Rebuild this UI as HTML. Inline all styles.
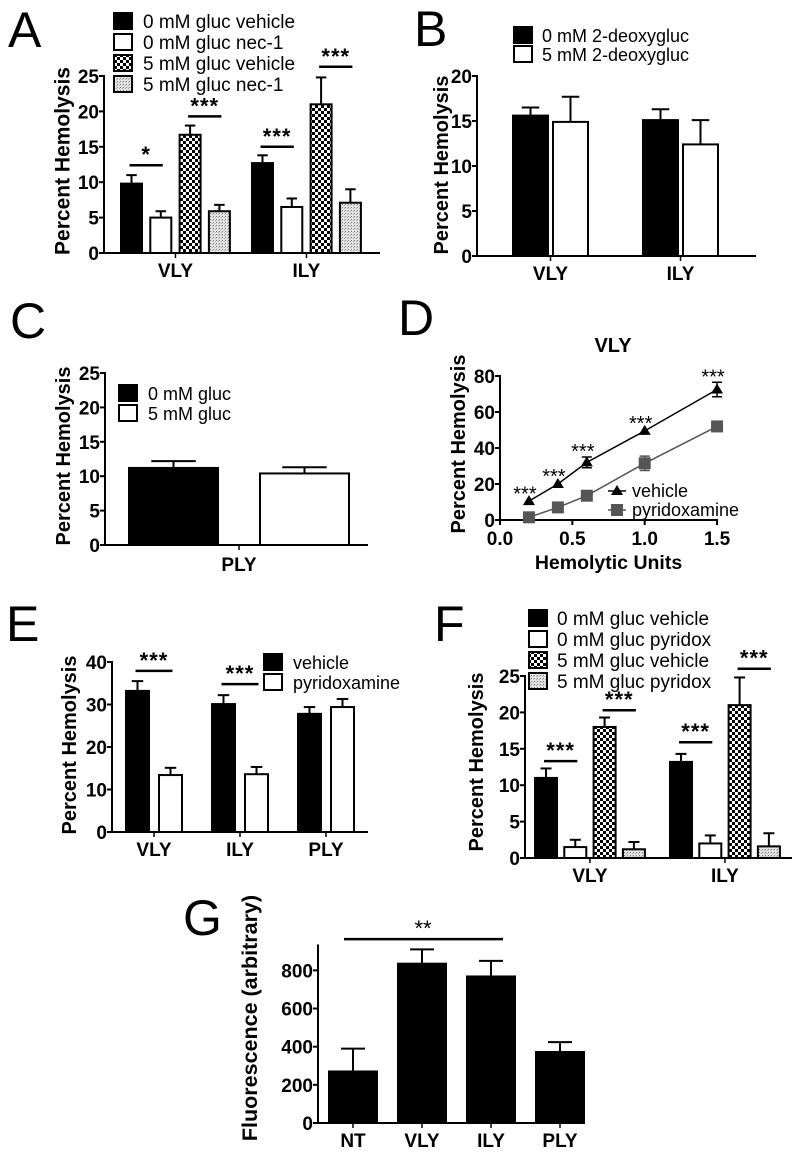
<!DOCTYPE html>
<html><head><meta charset="utf-8"><style>
body{margin:0;background:#fff}
svg{display:block;font-family:"Liberation Sans",Arial,sans-serif}
</style></head><body>
<svg id="fig" width="800" height="1160" viewBox="0 0 800 1160" xmlns="http://www.w3.org/2000/svg">
<defs>
<pattern id="checker" width="6" height="6" patternUnits="userSpaceOnUse"><rect width="6" height="6" fill="#fff"/><rect width="3" height="3" fill="#000"/><rect x="3" y="3" width="3" height="3" fill="#000"/></pattern>
<pattern id="stipple" width="3" height="3" patternUnits="userSpaceOnUse"><rect width="3" height="3" fill="#e4e4e4"/><rect width="1" height="1" fill="#777"/><rect x="2" y="1" width="1" height="1" fill="#aaa"/></pattern>
</defs>
</svg>
<script>
// ---- Panel A ----
const aCats=["VLY","ILY"];
const aVeh0=[9.8,12.7], aVeh0Err=[1.2,1.1];
const aNec0=[5.0,6.5], aNec0Err=[0.9,1.2];
const aVeh5=[16.7,21.0], aVeh5Err=[1.3,3.8];
const aNec5=[5.9,7.1], aNec5Err=[0.9,1.9];
const aTicks=[0,5,10,15,20,25];
const aSig=[[0,0,1,12.4,"*"],[0,2,3,19.3,"***"],[1,0,1,15.0,"***"],[1,2,3,26.3,"***"]];
// ---- Panel B ----
const bCats=["VLY","ILY"];
const b0=[15.6,15.1], b0Err=[0.9,1.2];
const b5=[14.9,12.4], b5Err=[2.8,2.7];
const bTicks=[0,5,10,15,20];
// ---- Panel C ----
const cCats=["PLY"];
const c0=[11.2], c0Err=[1.0];
const c5=[10.4], c5Err=[0.9];
const cTicks=[0,5,10,15,20,25];
// ---- Panel D ----
const dX=[0.2,0.4,0.6,1.0,1.5];
const dVeh=[10.5,20,32,49.5,72.5], dVehErr=[1,1,3,1,4];
const dPyr=[1.5,7,13.5,31.5,52], dPyrErr=[0.5,0.5,1,4,1];
const dXTicks=[0.0,0.5,1.0,1.5];
const dYTicks=[0,20,40,60,80];
// ---- Panel E ----
const eCats=["VLY","ILY","PLY"];
const eVeh=[33.2,30.1,27.8], eVehErr=[2.3,2.1,1.6];
const ePyr=[13.4,13.6,29.4], ePyrErr=[1.7,1.7,1.9];
const eTicks=[0,10,20,30,40];
const eSig=[[0,0,1,37.9,"***"],[1,0,1,34.8,"***"]];
// ---- Panel F ----
const fCats=["VLY","ILY"];
const fVeh0=[11,13.2], fVeh0Err=[1.3,1.1];
const fPyr0=[1.5,2.0], fPyr0Err=[1.0,1.1];
const fVeh5=[18,21], fVeh5Err=[1.3,3.8];
const fPyr5=[1.2,1.6], fPyr5Err=[1.0,1.8];
const fTicks=[0,5,10,15,20,25];
const fSig=[[0,0,1,13.3,"***"],[0,2,3,20.3,"***"],[1,0,1,15.9,"***"],[1,2,3,26.0,"***"]];
// ---- Panel G ----
const gCats=["NT","VLY","ILY","PLY"];
const gVals=[270,835,768,372], gErr=[120,75,82,52];
const gTicks=[0,200,400,600,800];

const svg=document.getElementById('fig');
const NS="http://www.w3.org/2000/svg";
function mk(tag,attrs,parent){const e=document.createElementNS(NS,tag);for(const k in attrs)e.setAttribute(k,attrs[k]);(parent||svg).appendChild(e);return e;}
function txt(s,attrs,parent){const e=mk('text',attrs,parent);e.textContent=s;return e;}

function panel(name){const g=mk('g',{});


return g;}

function letter(g,s,x,y){const t=txt(s,{x:x,y:y,'font-size':50},g);

}

function yAxis(g,cfg,ticks,label,lx,ly,lfs){
  const Y=v=>cfg.y0-v*cfg.k;
  const ax=mk('line',{x1:cfg.ax,y1:Y(cfg.ymax)-1,x2:cfg.ax,y2:cfg.y0+1,stroke:'#000','stroke-width':2},g);
  
  
  ticks.forEach(v=>{mk('line',{x1:cfg.ax-5,y1:Y(v),x2:cfg.ax,y2:Y(v),stroke:'#000','stroke-width':2},g);
    const t=txt(String(v),{x:cfg.ax-5,y:Y(v)+7,'font-size':19,'font-weight':'bold','text-anchor':'end'},g);
    
    });
  const l=txt(label,{x:0,y:0,'font-size':lfs||20,'font-weight':'bold','text-anchor':'middle','dominant-baseline':'central',transform:`translate(${lx},${ly}) rotate(-90)`},g);
  
  
  return Y;
}

function barChart(g,cfg,cats,series,ticks,label,lx,ly,lfs,sig){
  const Y=yAxis(g,cfg,ticks,label,lx,ly,lfs);
  const xa=mk('line',{x1:cfg.ax-1,y1:cfg.y0,x2:cfg.xend,y2:cfg.y0,stroke:'#000','stroke-width':2},g);
  
  
  const bx=(gi,si)=>cfg.first+gi*cfg.gstep+si*cfg.step;
  cats.forEach((c,gi)=>{
    const cx=(bx(gi,0)+bx(gi,series.length-1)+cfg.w)/2;
    mk('line',{x1:cx,y1:cfg.y0,x2:cx,y2:cfg.y0+5,stroke:'#000','stroke-width':1.5},g);
    const t=txt(c,{x:cx,y:cfg.y0+(cfg.catOff||24),'font-size':19,'font-weight':'bold','text-anchor':'middle'},g);
    
    
    series.forEach((s,si)=>{
      const v=s.vals[gi],e=s.err[gi],x=bx(gi,si),mid=x+cfg.w/2;
      const cap=cfg.w*0.5;
      mk('line',{x1:mid,y1:Y(v),x2:mid,y2:Y(v+e),stroke:'#000','stroke-width':2},g);
      mk('line',{x1:mid-cap/2,y1:Y(v+e),x2:mid+cap/2,y2:Y(v+e),stroke:'#000','stroke-width':2},g);
      const r=mk('rect',{x:x,y:Y(v),width:cfg.w,height:v*cfg.k,fill:s.fill,stroke:'#000','stroke-width':2},g);
      
      
    });
  });
  (sig||[]).forEach(([gi,a,b,lv,s])=>{
    const x1=bx(gi,a)+cfg.w/2-2,x2=bx(gi,b)+cfg.w/2+2;
    const ln=mk('line',{x1:x1,y1:Y(lv),x2:x2,y2:Y(lv),stroke:'#000','stroke-width':2.5},g);
    
    
    const t=txt(s,{x:(x1+x2)/2,y:Y(lv)-3,'font-size':22,'font-weight':'bold','text-anchor':'middle','letter-spacing':'1'},g);
    
    
  });
}

function legend(g,items,x,y0,dy,tx,fs){
  items.forEach(([lab,fill],i)=>{
    const cy=y0+i*dy;
    const r=mk('rect',{x:x,y:cy-8,width:18,height:16,fill:fill,stroke:'#000','stroke-width':2},g);
    
    
    const t=txt(lab,{x:tx,y:cy+7,'font-size':fs||19},g);
    
    
  });
}

// Panel A
let g=panel('panel-a');letter(g,'A',8,47);
barChart(g,{ax:104,y0:253,k:7.08,ymax:25,xend:380,first:121,w:21,step:29.3,gstep:131},aCats,
 [{vals:aVeh0,err:aVeh0Err,fill:'#000',key:'veh0'},{vals:aNec0,err:aNec0Err,fill:'#fff',key:'nec0'},
  {vals:aVeh5,err:aVeh5Err,fill:'url(#checker)',key:'veh5'},{vals:aNec5,err:aNec5Err,fill:'url(#stipple)',key:'nec5'}],
 aTicks,'Percent Hemolysis',63,161,21,aSig);
legend(g,[['0 mM gluc vehicle','#000'],['0 mM gluc nec-1','#fff'],['5 mM gluc vehicle','url(#checker)'],['5 mM gluc nec-1','url(#stipple)']],114,21,21,143,19);

// Panel B
g=panel('panel-b');letter(g,'B',414,46);
barChart(g,{ax:477,y0:256,k:9.0,ymax:20,xend:756,first:513,w:35,step:40,gstep:130},bCats,
 [{vals:b0,err:b0Err,fill:'#000',key:'0mm'},{vals:b5,err:b5Err,fill:'#fff',key:'5mm'}],
 bTicks,'Percent Hemolysis',442,165,20);
legend(g,[['0 mM 2-deoxygluc','#000'],['5 mM 2-deoxygluc','#fff']],514,35,19,542,18);

// Panel C
g=panel('panel-c');letter(g,'C',10,338);
barChart(g,{ax:105,y0:545,k:6.88,ymax:25,xend:368,first:129,w:89,step:131,gstep:0,catOff:26},cCats,
 [{vals:c0,err:c0Err,fill:'#000',key:'0mm'},{vals:c5,err:c5Err,fill:'#fff',key:'5mm'}],
 cTicks,'Percent Hemolysis',64,456,20);
legend(g,[['0 mM gluc','#000'],['5 mM gluc','#fff']],119,393,20,148,18);

// Panel D
g=panel('panel-d');letter(g,'D',398,335);
(function(){
  const ax=500,y0=520,ky=1.8,kx=144.7;
  const X=v=>ax+v*kx, Y=yAxis(g,{ax:ax,y0:y0,k:ky,ymax:80},dYTicks,'Percent Hemolysis',459,444,20);
  mk('line',{x1:ax-1,y1:y0,x2:X(1.5)+1,y2:y0,stroke:'#000','stroke-width':2},g);
  dXTicks.forEach(v=>{mk('line',{x1:X(v),y1:y0,x2:X(v),y2:y0+5,stroke:'#000','stroke-width':2},g);
    const t=txt(v.toFixed(1),{x:X(v),y:y0+25,'font-size':19,'font-weight':'bold','text-anchor':'middle'},g);
    
    });
  const xt=txt('Hemolytic Units',{x:X(0.75),y:569,'font-size':19.5,'font-weight':'bold','text-anchor':'middle'},g);
  
  
  const tt=txt('VLY',{x:613,y:352,'font-size':20,'font-weight':'bold','text-anchor':'middle'},g);
  
  
  function series(vals,err,col,marker,key){
    const p=mk('polyline',{points:dX.map((x,i)=>X(x)+','+Y(vals[i])).join(' '),fill:'none',stroke:col,'stroke-width':1.5},g);
    
    
    dX.forEach((x,i)=>{
      const cx=X(x),cy=Y(vals[i]),e=err[i];
      if(e>1.2){mk('path',{d:`M${cx},${Y(vals[i]+e)}V${Y(vals[i]-e)}M${cx-5},${Y(vals[i]+e)}h10M${cx-5},${Y(vals[i]-e)}h10`,stroke:col,'stroke-width':1.5,fill:'none'},g);}
      let m;
      if(marker==='tri')m=mk('path',{d:`M${cx},${cy-6}L${cx+6},${cy+4}L${cx-6},${cy+4}Z`,fill:col},g);
      else m=mk('rect',{x:cx-6,y:cy-6,width:12,height:12,fill:col},g);
      
      
    });
  }
  series(dPyr,dPyrErr,'#555','sq','pyridoxamine');
  series(dVeh,dVehErr,'#000','tri','vehicle');
  dX.forEach((x,i)=>{const t=txt('***',{x:X(x)-4,y:Y(dVeh[i]+dVehErr[i])+1,'font-size':20,'text-anchor':'middle'},g);
    
    });
  mk('line',{x1:608,y1:491,x2:626,y2:491,stroke:'#000','stroke-width':1.5},g);
  mk('path',{d:'M617,485L623,495L611,495Z',fill:'#000'},g);
  const l1=txt('vehicle',{x:632,y:497,'font-size':18},g);
  
  
  mk('line',{x1:608,y1:510,x2:626,y2:510,stroke:'#555','stroke-width':1.5},g);
  mk('rect',{x:611,y:504,width:12,height:12,fill:'#555'},g);
  const l2=txt('pyridoxamine',{x:632,y:516,'font-size':18},g);
  
  
})();

// Panel E
g=panel('panel-e');letter(g,'E',6,641);
barChart(g,{ax:112,y0:832,k:4.25,ymax:40,xend:368,first:126,w:23,step:33,gstep:86},eCats,
 [{vals:eVeh,err:eVehErr,fill:'#000',key:'vehicle'},{vals:ePyr,err:ePyrErr,fill:'#fff',key:'pyridoxamine'}],
 eTicks,'Percent Hemolysis',70,745,20,eSig);
legend(g,[['vehicle','#000'],['pyridoxamine','#fff']],264,662,20,293,18);

// Panel F
g=panel('panel-f');letter(g,'F',434,641);
barChart(g,{ax:525,y0:858,k:7.28,ymax:25,xend:792,first:535,w:22,step:29.3,gstep:135},fCats,
 [{vals:fVeh0,err:fVeh0Err,fill:'#000',key:'veh0'},{vals:fPyr0,err:fPyr0Err,fill:'#fff',key:'pyr0'},
  {vals:fVeh5,err:fVeh5Err,fill:'url(#checker)',key:'veh5'},{vals:fPyr5,err:fPyr5Err,fill:'url(#stipple)',key:'pyr5'}],
 fTicks,'Percent Hemolysis',477,762,20,fSig);
legend(g,[['0 mM gluc vehicle','#000'],['0 mM gluc pyridox','#fff'],['5 mM gluc vehicle','url(#checker)'],['5 mM gluc pyridox','url(#stipple)']],529,618,21,557,19);

// Panel G
g=panel('panel-g');letter(g,'G',183,935);
barChart(g,{ax:318,y0:1123,k:0.1908,ymax:930,xend:580,first:329,w:48,step:0,gstep:69,catOff:24},gCats,
 [{vals:gVals,err:gErr,fill:'#000',key:'fluorescence'}],
 gTicks,'Fluorescence (arbitrary)',250,1018,21.5);
(function(){const Y=v=>1123-v*0.1908;
  const ln=mk('line',{x1:344,y1:Y(964),x2:503,y2:Y(964),stroke:'#000','stroke-width':2.5},g);
  
  
  const t=txt('**',{x:423,y:Y(964)-3,'font-size':22,'text-anchor':'middle'},g);
  
  })();
</script>
</body></html>
